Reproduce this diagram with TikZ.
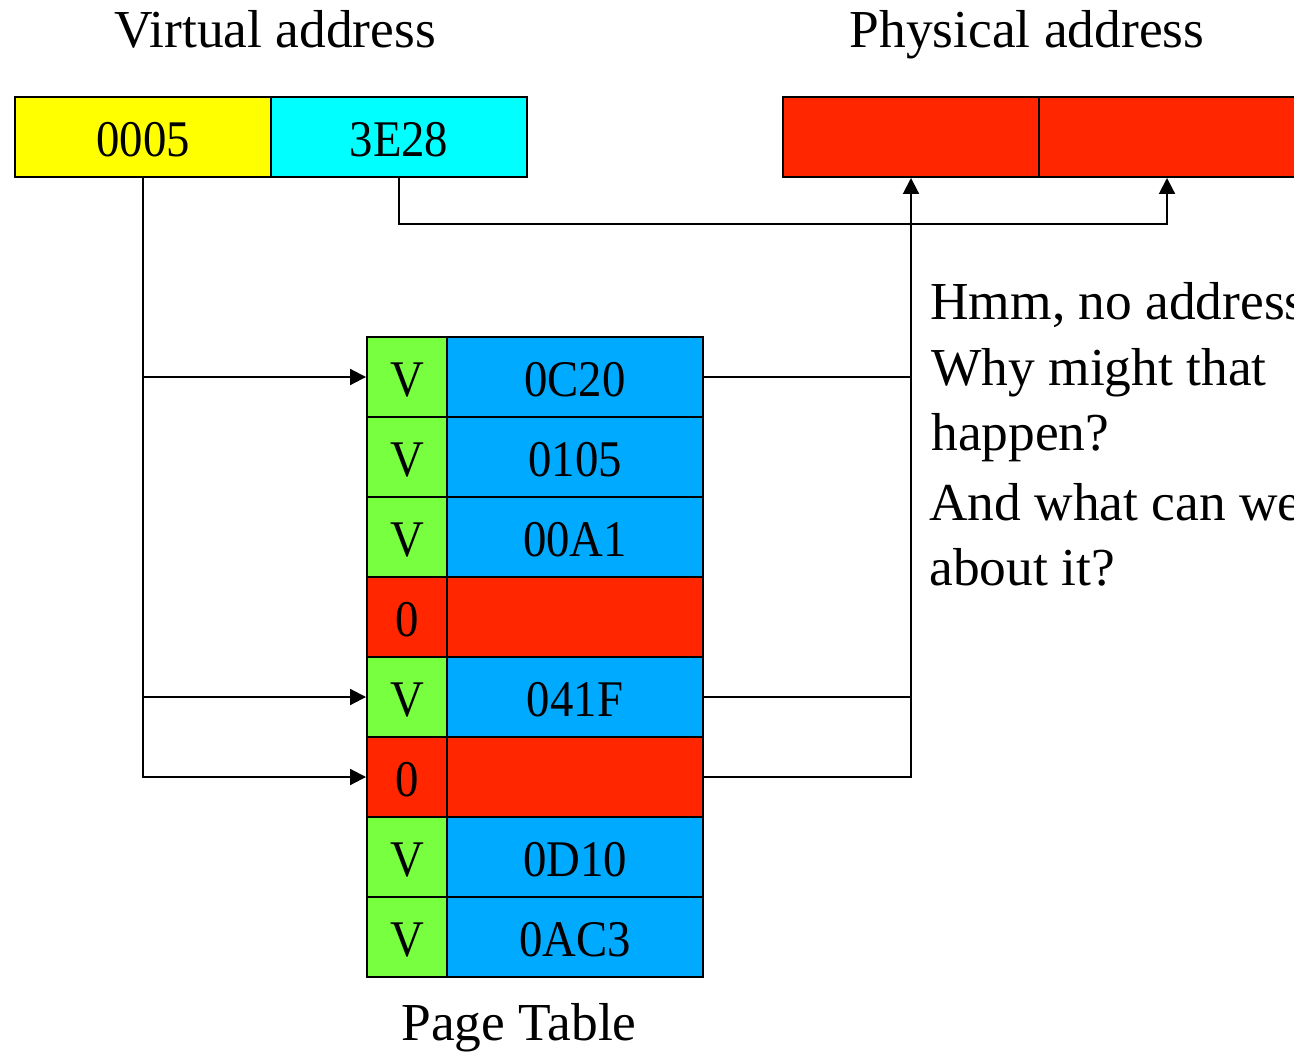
\documentclass[tikz,border=0pt]{standalone}
\usepackage{fontspec}
\usepackage{graphicx}
\setmainfont{Liberation Serif}
\usetikzlibrary{arrows.meta}
\definecolor{cyel}{RGB}{255,255,0}
\definecolor{ccyan}{RGB}{0,255,255}
\definecolor{cred}{RGB}{255,38,0}
\definecolor{cgreen}{RGB}{119,255,64}
\definecolor{cblue}{RGB}{0,170,255}
\newcommand\celltxt[1]{\scalebox{1}[1.1]{#1}}
\tikzset{
  cell/.style={draw=black, line width=1.1pt, inner sep=0pt, minimum height=80*0.02cm,
    text height=22.4pt, text depth=0pt,
    font=\fontsize{26.6}{30}\selectfont},
  flagcell/.style={cell, minimum width=80*0.02cm},
  numcell/.style={cell, minimum width=256*0.02cm},
  title/.style={font=\fontsize{30.4}{34}\selectfont, inner sep=0pt},
  conn/.style={line width=1.1pt, draw=black},
  arr/.style={conn, -{Triangle[length=9pt,width=9pt]}},
}
\begin{document}
\begin{tikzpicture}[x=0.02cm, y=-0.02cm]
\useasboundingbox (0,0) rectangle (1294,1051);
% titles
\node[title, anchor=base] (vt) at (275,48) {Virtual address};
\node[title, anchor=base] (pt) at (1027,48) {Physical address};
% virtual address
\node[numcell, fill=cyel] (va1) at (143,137) {\celltxt{0005}};
\node[numcell, fill=ccyan] (va2) at (399,137) {\celltxt{3E28}};
% physical address
\node[numcell, fill=cred] (pa1) at (911,137) {};
\node[numcell, fill=cred] (pa2) at (1167,137) {};
% page table
\foreach \i/\f/\n/\fc/\nc in {1/V/0C20/cgreen/cblue, 2/V/0105/cgreen/cblue, 3/V/00A1/cgreen/cblue,
   4/0//cred/cred, 5/V/041F/cgreen/cblue, 6/0//cred/cred, 7/V/0D10/cgreen/cblue, 8/V/0AC3/cgreen/cblue}{
  \node[flagcell, fill=\fc] (pf\i) at (407,{297+80*\i}) {\celltxt{\f}};
  \node[numcell, fill=\nc] (pn\i) at (575,{297+80*\i}) {\celltxt{\n}};
}
\node[title, anchor=base] (ptl) at (519,1040) {Page Table};
% connectors from page number
\draw[arr] (va1.south) |- (pf6.west);
\draw[arr] (va1.south |- pf1.west) -- (pf1.west);
\draw[arr] (va1.south |- pf5.west) -- (pf5.west);
% offset
\coordinate (offy) at (0,224);
\draw[arr] (va2.south) -- (va2.south |- offy) -| (pa2.south);
% frames
\draw[arr] (pn6.east) -| (pa1.south);
\draw[conn] (pn1.east) -- (pn1.east -| pa1.south);
\draw[conn] (pn5.east) -- (pn5.east -| pa1.south);
% comments
\node[title, anchor=base west] (c1) at (930,319) {Hmm, no address};
\node[title, anchor=base west] (c2) at (931,385) {Why might that};
\node[title, anchor=base west] (c3) at (931,450) {happen?};
\node[title, anchor=base west] (c4) at (929,520) {And what can we};
\node[title, anchor=base west] (c5) at (929,585) {about it?};
\end{tikzpicture}
\end{document}
